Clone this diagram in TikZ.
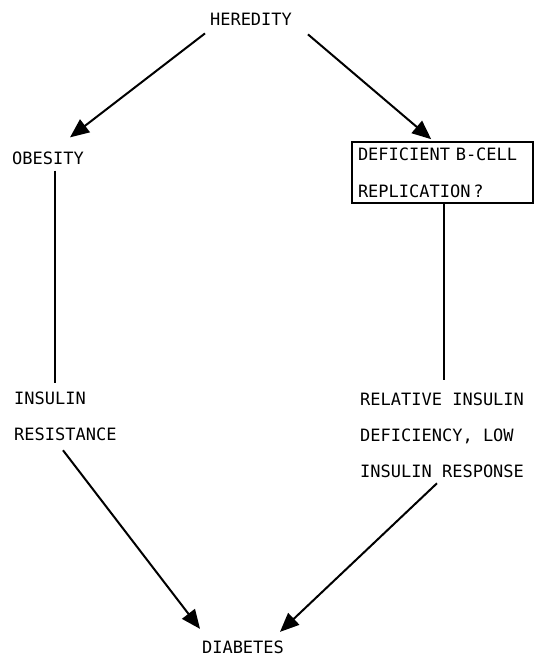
\documentclass[tikz,border=0pt]{standalone}
\usepackage{fontspec}
\setmonofont{DejaVu Sans Mono}
\usetikzlibrary{arrows.meta}
\tikzset{
  lbl/.style={inner sep=0pt, font=\ttfamily\fontsize{17}{36}\selectfont, align=left},
  conn/.style={line width=2pt},
  arr/.style={conn, -{Triangle[length=19pt,width=16pt]}},
  framebox/.style={lbl, draw, line width=1.6pt, inner xsep=6pt, text width=169pt,
     minimum height=61pt, font=\ttfamily\fontsize{17}{37}\selectfont}
}
\begin{document}
\begin{tikzpicture}[x=1pt,y=-1pt]
\useasboundingbox (0,0) rectangle (534,657);
\node[lbl] (her) at (251,19) {HEREDITY};
\node[lbl, anchor=west] (obe) at (12,158) {OBESITY};
\node[framebox] (box) at (442.5,172.5) {\mbox{DEFICIENT B-CELL}\\\mbox{REPLICATION\,?}};
\node[lbl, anchor=north west] (ins) at (14,392) {INSULIN\\RESISTANCE};
\node[lbl, anchor=north west] (rel) at (360,393) {RELATIVE INSULIN\\DEFICIENCY, LOW\\INSULIN RESPONSE};
\node[lbl] (dia) at (243,647.5) {DIABETES};
\draw[arr] ([shift={(-46,8)}]her.south) -- ([shift={(58,-14)}]obe.north west);
\draw[arr] ([shift={(57,9)}]her.south) -- ([shift={(80,-2)}]box.north west);
\draw[conn] ([shift={(43,6)}]obe.south west) -- ([shift={(41,-9)}]ins.north west);
\draw[conn] ([shift={(1.5,0)}]box.south) -- ([shift={(84,-13)}]rel.north west);
\draw[arr] ([shift={(49,9)}]ins.south west) -- ([shift={(-43,-12)}]dia.north);
\draw[arr] ([shift={(77,5)}]rel.south west) -- ([shift={(37,-9)}]dia.north);
\end{tikzpicture}
\end{document}
